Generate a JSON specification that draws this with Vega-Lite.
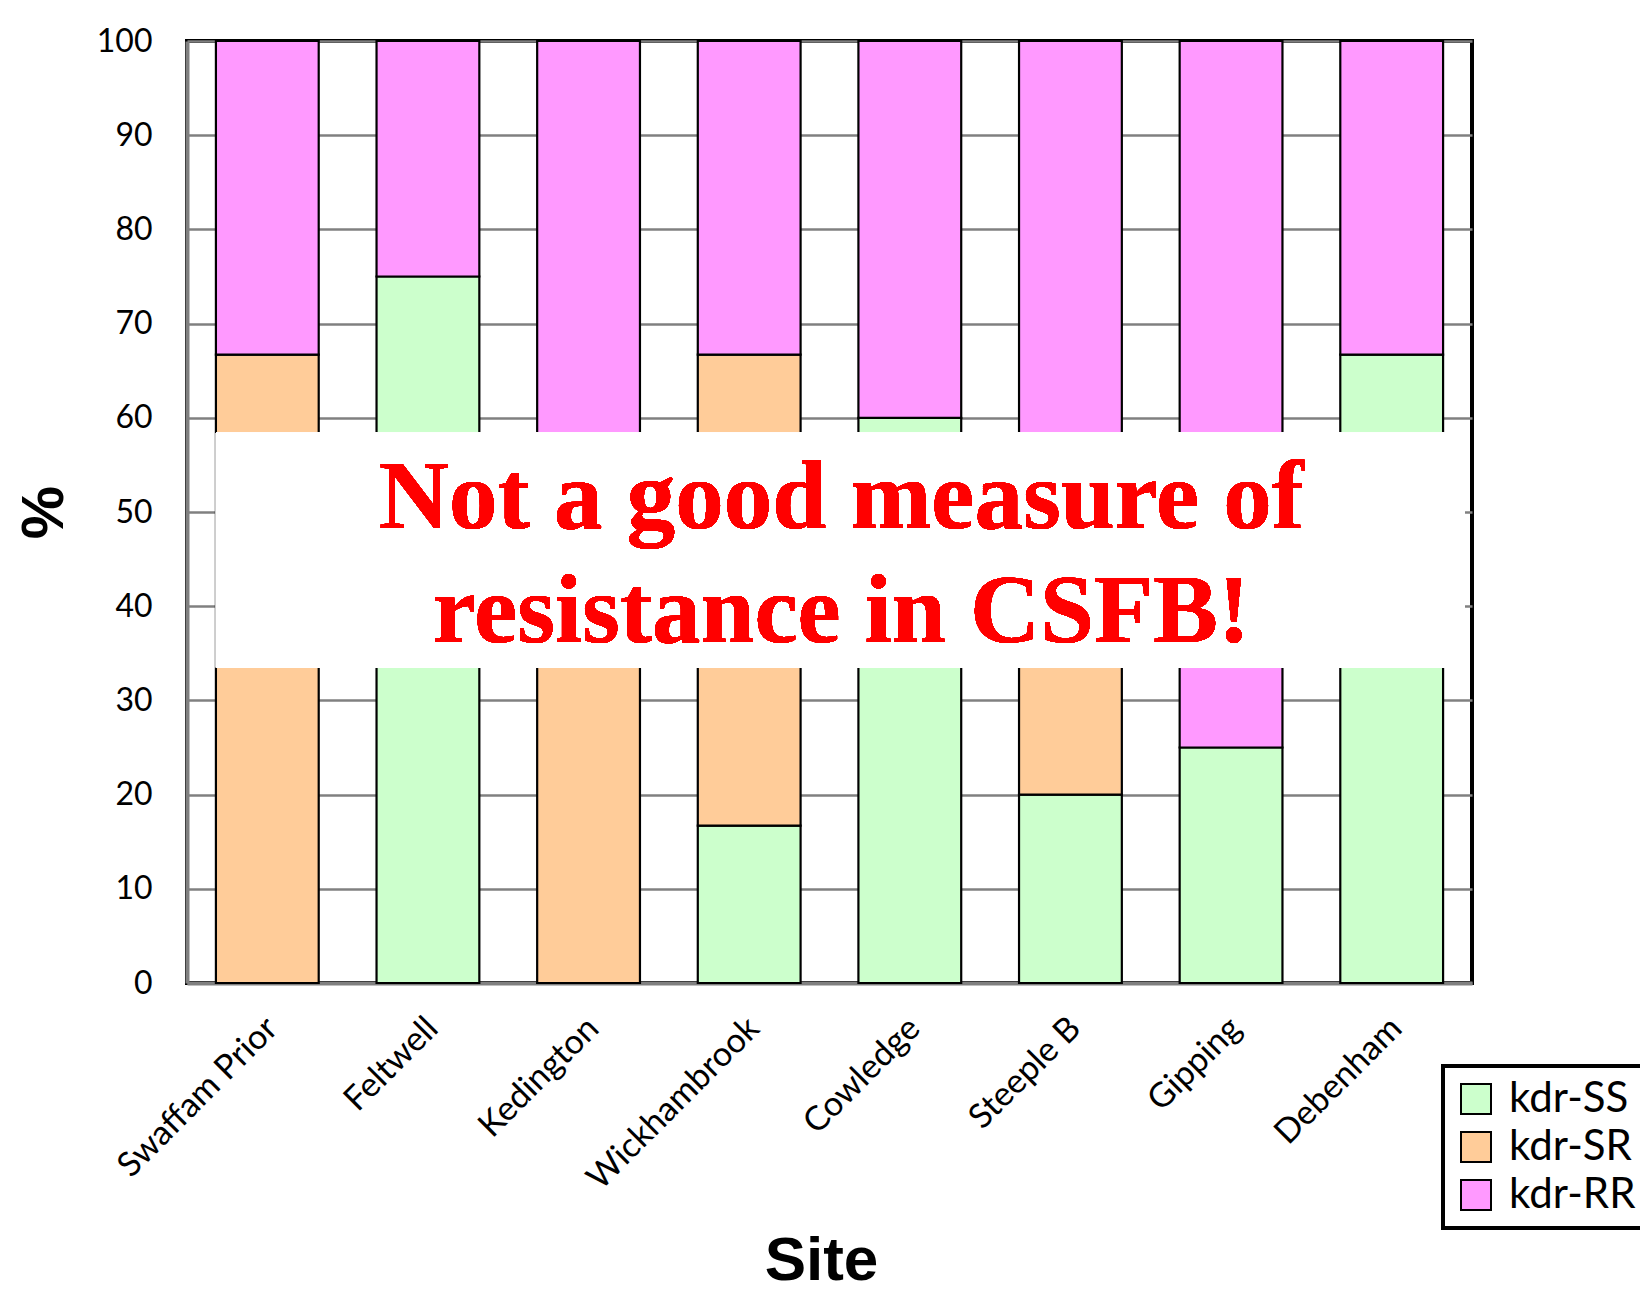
{
  "$schema": "https://vega.github.io/schema/vega-lite/v6.json",
  "autosize": {"type": "none"},
  "width": 1285,
  "height": 942,
  "padding": {"left": 187, "top": 41, "right": 168, "bottom": 310},
  "background": "white",
  "config": {
    "view": {"stroke": "black", "strokeWidth": 4, "fill": "white"},
    "axis": {"labelFont": "Lato", "labelColor": "black", "titleColor": "black", "titleFont": "Liberation Sans", "titleFontWeight": "bold"}
  },
  "data": {
    "values": [
      {"site": "Swaffam Prior", "genotype": "kdr-SR", "pct": 66.7},
      {"site": "Swaffam Prior", "genotype": "kdr-RR", "pct": 33.3},
      {"site": "Feltwell", "genotype": "kdr-SS", "pct": 75},
      {"site": "Feltwell", "genotype": "kdr-RR", "pct": 25},
      {"site": "Kedington", "genotype": "kdr-SR", "pct": 50},
      {"site": "Kedington", "genotype": "kdr-RR", "pct": 50},
      {"site": "Wickhambrook", "genotype": "kdr-SS", "pct": 16.7},
      {"site": "Wickhambrook", "genotype": "kdr-SR", "pct": 50},
      {"site": "Wickhambrook", "genotype": "kdr-RR", "pct": 33.3},
      {"site": "Cowledge", "genotype": "kdr-SS", "pct": 60},
      {"site": "Cowledge", "genotype": "kdr-RR", "pct": 40},
      {"site": "Steeple B", "genotype": "kdr-SS", "pct": 20},
      {"site": "Steeple B", "genotype": "kdr-SR", "pct": 20},
      {"site": "Steeple B", "genotype": "kdr-RR", "pct": 60},
      {"site": "Gipping", "genotype": "kdr-SS", "pct": 25},
      {"site": "Gipping", "genotype": "kdr-RR", "pct": 75},
      {"site": "Debenham", "genotype": "kdr-SS", "pct": 66.7},
      {"site": "Debenham", "genotype": "kdr-RR", "pct": 33.3}
    ]
  },
  "layer": [
    {
      "mark": {"type": "bar", "stroke": "black", "strokeWidth": 2.2, "opacity": 1},
      "encoding": {
        "x": {
          "field": "site", "type": "nominal", "sort": null,
          "scale": {"paddingInner": 0.36, "paddingOuter": 0.18},
          "axis": {
            "title": "Site", "titleFontSize": 62, "titleX": 634, "titleY": 296, "titleBaseline": "alphabetic", "titleAlign": "center",
            "labelAngle": -45, "labelAlign": "right", "labelBaseline": "middle", "labelFontSize": 34, "labelPadding": 40, "labelOffset": 5, "labelLimit": 500,
            "ticks": false, "domainColor": "#808080", "domainWidth": 4, "grid": false
          }
        },
        "y": {
          "field": "pct", "type": "quantitative", "stack": "zero",
          "scale": {"domain": [0, 100], "nice": false},
          "axis": {
            "title": "%", "titleFontSize": 60, "titleAngle": -90, "titleX": -125, "titleY": 471, "titleBaseline": "alphabetic", "titleAlign": "center",
            "values": [0, 10, 20, 30, 40, 50, 60, 70, 80, 90, 100],
            "labelFontSize": 32, "labelPadding": 35, "ticks": false,
            "domainColor": "#808080", "domainWidth": 4,
            "grid": true, "gridColor": "#808080", "gridWidth": 2.5
          }
        },
        "color": {
          "field": "genotype", "type": "nominal", "sort": ["kdr-SS", "kdr-SR", "kdr-RR"],
          "scale": {"domain": ["kdr-SS", "kdr-SR", "kdr-RR"], "range": ["#CCFFCC", "#FFCC99", "#FF99FF"]},
          "legend": {
            "title": null, "orient": "none", "legendX": 1256, "legendY": 1025,
            "strokeColor": "black", "padding": 12, "fillColor": "white",
            "symbolType": "square", "symbolSize": 900, "symbolStrokeColor": "black", "symbolStrokeWidth": 2, "symbolOpacity": 1,
            "labelFont": "Lato", "labelFontSize": 42, "labelColor": "black", "labelOffset": 12, "rowPadding": 6, "labelLimit": 400,
            "encode": {"legend": {"update": {"strokeWidth": {"value": 4}}}}
          }
        }
      }
    },
    {
      "mark": {"type": "rect", "fill": "white", "stroke": null},
      "encoding": {
        "x": {"datum": "Swaffam Prior", "bandPosition": 0},
        "x2": {"datum": "Debenham", "bandPosition": 1.21},
        "y": {"datum": 58.4},
        "y2": {"datum": 33.5}
      }
    },
    {
      "mark": {"type": "text", "color": "#FF0000", "font": "Liberation Serif", "fontWeight": "bold", "fontSize": 97, "align": "center", "baseline": "alphabetic", "lineHeight": 114, "dx": 12},
      "encoding": {
        "y": {"datum": 48.3},
        "text": {"value": ["Not a good measure of", "resistance in CSFB!"]}
      }
    }
  ]
}
